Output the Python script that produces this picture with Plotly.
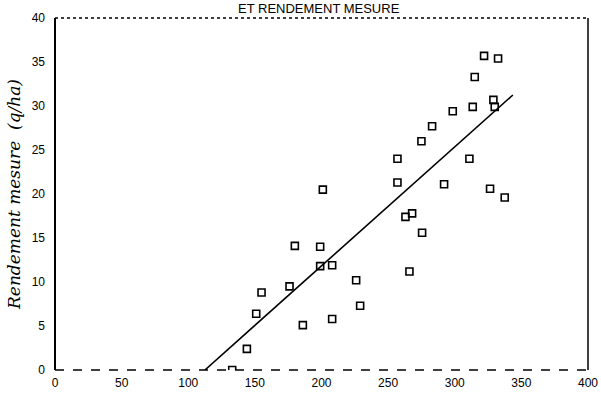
import plotly.graph_objects as go

# Data
revenu_x = [133, 144, 151, 155, 176, 180, 186, 199, 199, 208, 201, 208, 226, 229,
            257, 257, 263, 268, 266, 275.5, 275, 283, 292, 298.5, 311, 313.5, 315,
            322, 326.5, 329, 330, 332.5, 337.5]
rendement_y = [0, 2.4, 6.4, 8.8, 9.5, 14.1, 5.1, 11.8, 14.0, 11.9, 20.5, 5.8, 10.2, 7.3,
               24.0, 21.3, 17.4, 17.8, 11.2, 15.6, 26.0, 27.7, 21.1, 29.4, 24.0, 29.9, 33.3,
               35.7, 20.6, 30.7, 29.9, 35.4, 19.6]
fit_x = [112.5, 343.6]
fit_y = [0, 31.25]

x_ticks = [0, 50, 100, 150, 200, 250, 300, 350, 400]
y_ticks = [0, 5, 10, 15, 20, 25, 30, 35, 40]

fig = go.Figure()
fig.add_trace(go.Scatter(x=fit_x, y=fit_y, mode="lines",
                         line=dict(color="black", width=1.6), showlegend=False))
fig.add_trace(go.Scatter(x=revenu_x, y=rendement_y, mode="markers",
                         marker=dict(symbol="square-open", size=7, color="black",
                                     line=dict(width=1.6, color="black")),
                         showlegend=False))

# Frame (scanned look: solid left/right, broken top/bottom)
fig.add_shape(type="line", xref="paper", yref="paper", x0=0, x1=0, y0=0, y1=1,
              line=dict(color="black", width=2))
fig.add_shape(type="line", xref="paper", yref="paper", x0=1, x1=1, y0=0, y1=1,
              line=dict(color="black", width=1.5))
fig.add_shape(type="line", xref="paper", yref="paper", x0=0, x1=1, y0=0, y1=0,
              line=dict(color="black", width=1.5, dash="dash"))
fig.add_shape(type="line", xref="paper", yref="paper", x0=0, x1=1, y0=1, y1=1,
              line=dict(color="black", width=1.5, dash="dot"))

fig.update_layout(
    width=601, height=394,
    margin=dict(l=55, r=13, t=18, b=24),
    paper_bgcolor="white", plot_bgcolor="white",
    font=dict(family="Liberation Sans, Arial, sans-serif", size=12, color="black"),
    xaxis=dict(range=[0, 400], tickvals=x_ticks, ticktext=[str(v) for v in x_ticks],
               showgrid=False, zeroline=False, showline=False, ticks="",
               automargin=False,
               ticklabelstandoff=4, tickfont=dict(size=12)),
    yaxis=dict(range=[0, 40], tickvals=y_ticks, ticktext=[str(v) for v in y_ticks],
               showgrid=False, zeroline=False, showline=False, ticks="",
               automargin=False,
               ticklabelstandoff=9, tickfont=dict(size=12),
               title=dict(text="Rendement mesure  (q/ha)", standoff=6,
                          font=dict(family="DejaVu Serif, Liberation Serif, serif",
                                    size=17, style="italic"))),
    annotations=[dict(text="ET RENDEMENT MESURE", xref="paper", yref="paper",
                      x=0.495, y=1.0, xanchor="center", yanchor="top", yshift=19,
                      showarrow=False,
                      font=dict(family="Liberation Sans, Arial, sans-serif", size=13))],
)

fig.write_html("out.html",
               config={"displayModeBar": False},
               post_script="document.body.style.margin='0';document.body.style.overflow='hidden';")
